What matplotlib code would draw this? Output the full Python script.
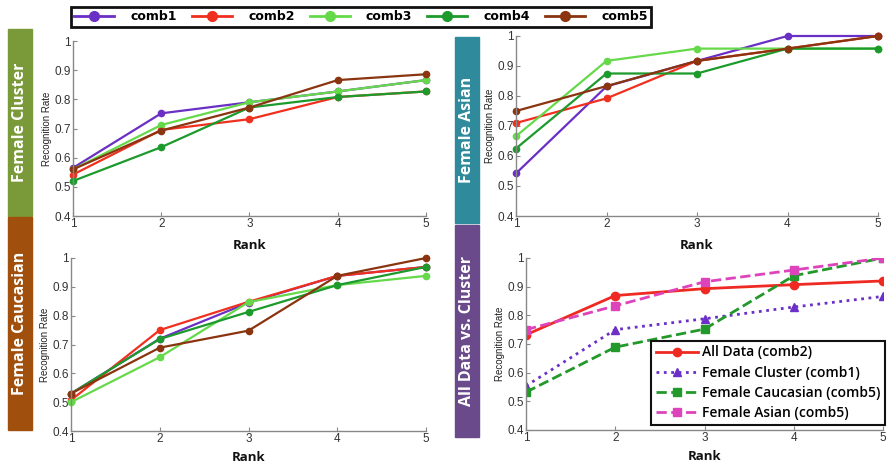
import matplotlib
matplotlib.use("Agg")
import matplotlib.pyplot as plt
from matplotlib.lines import Line2D
from matplotlib.patches import Rectangle

W, H = 889, 466

ranks = [1, 2, 3, 4, 5]
comb_names = ["comb1", "comb2", "comb3", "comb4", "comb5"]
comb_colors = ["#6a2fc4", "#f0301e", "#66d94a", "#1c9a2c", "#8a3410"]

# Female Cluster
cluster_vals = [
    [0.565, 0.752, 0.79, 0.827, 0.866],
    [0.542, 0.695, 0.732, 0.808, 0.827],
    [0.56, 0.712, 0.79, 0.827, 0.866],
    [0.52, 0.636, 0.772, 0.808, 0.827],
    [0.56, 0.693, 0.772, 0.866, 0.886],
]
# Female Asian
asian_vals = [
    [0.542, 0.832, 0.917, 1.0, 1.0],
    [0.71, 0.792, 0.917, 0.958, 1.0],
    [0.666, 0.917, 0.958, 0.958, 0.958],
    [0.625, 0.875, 0.875, 0.958, 0.958],
    [0.75, 0.833, 0.917, 0.958, 1.0],
]
# Female Caucasian
caucasian_vals = [
    [0.53, 0.72, 0.845, 0.938, 0.969],
    [0.507, 0.75, 0.848, 0.938, 0.969],
    [0.5, 0.656, 0.847, 0.906, 0.938],
    [0.53, 0.719, 0.813, 0.906, 0.969],
    [0.53, 0.689, 0.748, 0.938, 1.0],
]
# All data vs. cluster
all_names = ["All Data (comb2)", "Female Cluster (comb1)",
             "Female Caucasian (comb5)", "Female Asian (comb5)"]
all_vals = [
    [0.732, 0.869, 0.893, 0.907, 0.92],
    [0.554, 0.75, 0.788, 0.829, 0.866],
    [0.532, 0.689, 0.752, 0.938, 1.0],
    [0.75, 0.833, 0.917, 0.958, 1.0],
]
all_colors = ["#ee2a22", "#6a30c8", "#22992a", "#dd44bb"]
all_styles = ["-", ":", "--", "--"]
all_markers = ["o", "^", "s", "s"]

yticks = [0.4, 0.5, 0.6, 0.7, 0.8, 0.9, 1.0]
ytick_labels = ["0.4", "0.5", "0.6", "0.7", "0.8", "0.9", "1"]

side_labels = ["Female Cluster", "Female Caucasian", "Female Asian", "All Data vs. Cluster"]
side_colors = ["#7a9a3a", "#a0500c", "#2f8a9c", "#6a4a8a"]

tick_font = "Liberation Sans"
bold_font = "Open Sans"


def px_axes(fig, x0, y0, x1, y1):
    return fig.add_axes([x0 / W, 1 - y1 / H, (x1 - x0) / W, (y1 - y0) / H])


def style_axes(ax, rank_pad):
    ax.set_xlim(1, 5)
    ax.set_ylim(0.4, 1.0)
    ax.set_xticks(ranks)
    ax.set_yticks(yticks)
    ax.set_xticklabels([str(r) for r in ranks], family=tick_font, fontsize=8.5, color="#333333")
    ax.set_yticklabels(ytick_labels, family=tick_font, fontsize=8.5, color="#333333")
    for s in ["top", "right"]:
        ax.spines[s].set_visible(False)
    for s in ["left", "bottom"]:
        ax.spines[s].set_color("#888888")
        ax.spines[s].set_linewidth(1.0)
    ax.tick_params(direction="in", length=3, color="#888888", pad=1.5)
    ax.set_ylabel("Recognition Rate", family=tick_font, fontsize=7, color="#222222", labelpad=2)
    ax.set_xlabel("Rank", family=bold_font, fontweight="bold", fontsize=9.5, color="#111111",
                  labelpad=rank_pad)


fig = plt.figure(figsize=(W / 100, H / 100), dpi=100)

boxes = [(73, 41, 426, 216), (71, 258, 426, 431), (516, 36, 878, 216), (526, 258, 883, 430)]
rank_pads = [6.5, 4.4, 6.5, 4.0]
panel_data = [cluster_vals, caucasian_vals, asian_vals]
axes = [px_axes(fig, *b) for b in boxes]

for ax, vals in zip(axes[:3], panel_data):
    for name, color, v in zip(comb_names, comb_colors, vals):
        ax.plot(ranks, v, "-o", color=color, lw=1.6, ms=4.5, clip_on=False)
for ax, pad in zip(axes, rank_pads):
    style_axes(ax, pad)

ax4 = axes[3]
for name, color, ls, mk, v in zip(all_names, all_colors, all_styles, all_markers, all_vals):
    ax4.plot(ranks, v, linestyle=ls, marker=mk, color=color, lw=2, ms=6, label=name)
leg4 = ax4.legend(loc="lower right", bbox_to_anchor=(885 / W, 1 - 425 / H),
                  bbox_transform=fig.transFigure, fancybox=False, framealpha=1,
                  edgecolor="#111111", borderpad=0.35, labelspacing=0.45, handlelength=3.0,
                  handletextpad=0.3, borderaxespad=0,
                  prop={"family": bold_font, "weight": "semibold", "size": 10})
leg4.get_frame().set_linewidth(1.5)

# coloured side labels
side_boxes = [(8, 29, 32, 216), (8, 217, 32, 430), (455, 37, 479, 223), (455, 225, 479, 437)]
for (x0, y0, x1, y1), lab, col in zip(side_boxes, side_labels, side_colors):
    fig.patches.append(Rectangle((x0 / W, 1 - y1 / H), (x1 - x0) / W, (y1 - y0) / H,
                                 transform=fig.transFigure, color=col, zorder=0))
    fig.text((x0 + x1) / 2 / W, 1 - (y0 + y1) / 2 / H, lab, rotation=90, ha="center",
             va="center", color="white", family=bold_font, fontweight="bold", fontsize=11.5)

# shared legend at the top
handles = [Line2D([], [], color=c, marker="o", lw=2, ms=7) for c in comb_colors]
leg = fig.legend(handles, comb_names, loc="center", bbox_to_anchor=(361 / W, 1 - 17 / H),
                 ncol=5, fancybox=False, framealpha=1, edgecolor="#111111",
                 handlelength=3.2, handletextpad=1.3, columnspacing=1.2, borderpad=0.25,
                 prop={"family": "DejaVu Sans", "weight": "bold", "size": 9})
leg.get_frame().set_linewidth(2)

fig.savefig("out.png", dpi=100)
